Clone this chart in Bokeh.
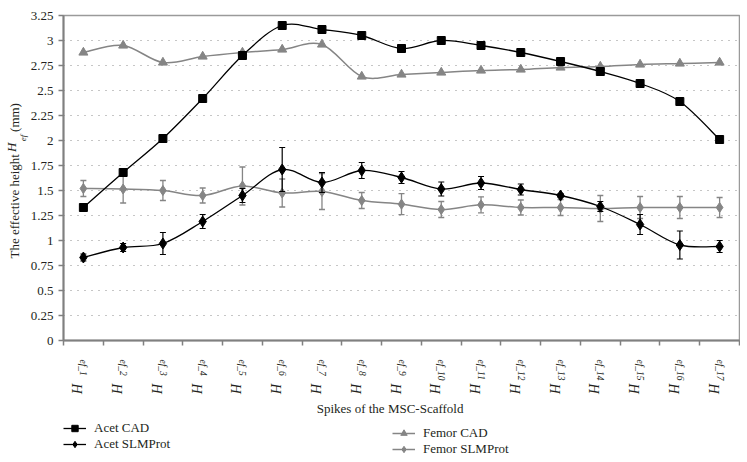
from bokeh.plotting import figure
from bokeh.layouts import column
from bokeh.models import (Range1d, FixedTicker, Legend, LegendItem, LinearAxis)
from bokeh.embed import file_html
from bokeh.resources import INLINE

# ---------------- data ----------------
spikes = [1, 2, 3, 4, 5, 6, 7, 8, 9, 10, 11, 12, 13, 14, 15, 16, 17]
x_subs = ["ef_1", "ef_2", "ef_3", "ef_4", "ef_5", "ef_6", "ef_7", "ef_8", "ef_9",
          "ef_10", "ef_11", "ef_12", "ef_13", "ef_14", "ef_15", "ef_16", "ef_17"]
y_ticks = [0, 0.25, 0.5, 0.75, 1, 1.25, 1.5, 1.75, 2, 2.25, 2.5, 2.75, 3, 3.25]
y_tick_labels = ["0", "0.25", "0.5", "0.75", "1", "1.25", "1.5", "1.75", "2",
                 "2.25", "2.5", "2.75", "3", "3.25"]
x_bounds = [0.5, 1.5, 2.5, 3.5, 4.5, 5.5, 6.5, 7.5, 8.5, 9.5, 10.5, 11.5, 12.5,
            13.5, 14.5, 15.5, 16.5, 17.5]

acet_cad = [1.33, 1.68, 2.02, 2.42, 2.85, 3.15, 3.11, 3.05, 2.92, 3.00, 2.95,
            2.88, 2.79, 2.69, 2.57, 2.39, 2.01]
femor_cad = [2.88, 2.95, 2.78, 2.84, 2.88, 2.91, 2.96, 2.64, 2.66, 2.68, 2.70,
             2.71, 2.73, 2.74, 2.76, 2.77, 2.78]
acet_slm = [0.83, 0.93, 0.97, 1.19, 1.45, 1.71, 1.58, 1.70, 1.63, 1.515, 1.575,
            1.51, 1.45, 1.34, 1.16, 0.955, 0.94]
acet_slm_err = [0.035, 0.04, 0.11, 0.07, 0.07, 0.22, 0.10, 0.08, 0.06, 0.07,
                0.065, 0.055, 0.02, 0.05, 0.10, 0.14, 0.06]
femor_slm = [1.52, 1.515, 1.50, 1.45, 1.545, 1.475, 1.49, 1.40, 1.363, 1.31,
             1.357, 1.33, 1.33, 1.32, 1.33, 1.33, 1.33]
femor_slm_err = [0.08, 0.14, 0.10, 0.075, 0.19, 0.14, 0.18, 0.08, 0.105, 0.08,
                 0.08, 0.075, 0.08, 0.13, 0.11, 0.11, 0.10]

FONT = "Liberation Serif"
TXT = "#231f20"
BLACK = "#000000"
GRAY = "#858585"

# frame geometry (page px)
FX0, FX1, FY0, FY1 = 63, 739, 15, 348
W, H1, H2 = 740, 418, 42
XS = (FX1 - FX0) / 17.0
YS = (FY1 - FY0) / 3.25


def dy(py):
    return (FY1 - py) / YS


def smooth(xs, ys):
    """Catmull-Rom -> cubic Bezier control points (Excel-like smoothed line)."""
    n = len(xs)
    out = {k: [] for k in ("x0", "y0", "x1", "y1", "cx0", "cy0", "cx1", "cy1")}
    for i in range(n - 1):
        a = max(i - 1, 0)
        d = min(i + 2, n - 1)
        out["x0"].append(xs[i]); out["y0"].append(ys[i])
        out["x1"].append(xs[i + 1]); out["y1"].append(ys[i + 1])
        out["cx0"].append(xs[i] + (xs[i + 1] - xs[a]) / 6.0)
        out["cy0"].append(ys[i] + (ys[i + 1] - ys[a]) / 6.0)
        out["cx1"].append(xs[i + 1] - (xs[d] - xs[i]) / 6.0)
        out["cy1"].append(ys[i + 1] - (ys[d] - ys[i]) / 6.0)
    return out


p = figure(width=W, height=H1, x_range=Range1d(0.5, 17.5),
           y_range=Range1d(0, 3.25), output_backend="svg",
           toolbar_location=None, min_border_left=FX0, min_border_right=W - FX1,
           min_border_top=FY0, min_border_bottom=H1 - FY1)
p.background_fill_color = "white"
p.border_fill_color = "white"
p.outline_line_color = "#9a9a9a"
p.outline_line_width = 1.5


def plain_axis(ax):
    ax.axis_line_color = None
    ax.major_tick_line_color = None
    ax.minor_tick_line_color = None
    ax.major_tick_in = 0
    ax.major_tick_out = 0
    ax.minor_tick_in = 0
    ax.minor_tick_out = 0
    ax.major_label_text_font = FONT
    ax.major_label_text_color = TXT


# ---- y axis ----
p.yaxis.ticker = FixedTicker(ticks=y_ticks)
p.yaxis.major_label_overrides = {t: l for t, l in zip(y_ticks, y_tick_labels)}
p.yaxis.axis_line_color = "#808080"
p.yaxis.axis_line_width = 2
p.yaxis.major_tick_line_color = "#808080"
p.yaxis.major_tick_line_width = 1.5
p.yaxis.major_tick_in = 0
p.yaxis.major_tick_out = 5
p.yaxis.minor_tick_line_color = None
p.yaxis.major_label_text_font = FONT
p.yaxis.major_label_text_font_size = "13px"
p.yaxis.major_label_text_color = TXT
p.yaxis.major_label_standoff = 5

# ---- x axis: subscripts as labels, boundaries as (minor) ticks ----
xa = p.xaxis[0]
xa.ticker = FixedTicker(ticks=spikes, minor_ticks=x_bounds)
xa.major_label_overrides = {c: s for c, s in zip(spikes, x_subs)}
xa.major_label_orientation = "vertical"
xa.major_label_text_font = FONT
xa.major_label_text_font_style = "italic"
xa.major_label_text_font_size = "9.5px"
xa.major_label_text_color = TXT
xa.major_label_standoff = 14
xa.axis_line_color = "#808080"
xa.axis_line_width = 2
xa.major_tick_line_color = None
xa.major_tick_in = 0
xa.major_tick_out = 5
xa.minor_tick_line_color = "#808080"
xa.minor_tick_line_width = 1.5
xa.minor_tick_in = 0
xa.minor_tick_out = 5

# "H" of each tick label, on a second (line-less) axis below; carries the title
h_shift = -6.5 / XS
h_pos = [c + h_shift for c in spikes]
ax_h = LinearAxis(ticker=FixedTicker(ticks=h_pos),
                  major_label_overrides={hp: "H" for hp in h_pos},
                  major_label_orientation="vertical")
plain_axis(ax_h)
ax_h.major_label_text_font_style = "italic"
ax_h.major_label_text_font_size = "14px"
ax_h.major_label_standoff = 0
ax_h.axis_label = "Spikes of the MSC-Scaffold" + "\u00a0" * 7
ax_h.axis_label_text_font = FONT
ax_h.axis_label_text_font_size = "13px"
ax_h.axis_label_text_font_style = "normal"
ax_h.axis_label_text_color = TXT
ax_h.axis_label_standoff = 4
p.add_layout(ax_h, "below")

# ---- y axis title pieces: "The effective height H_ef (mm)" ----
ef_pos = [dy(140.5)]
ax_ef = LinearAxis(ticker=FixedTicker(ticks=ef_pos),
                   major_label_overrides={ef_pos[0]: "ef"},
                   major_label_orientation="vertical")
plain_axis(ax_ef)
ax_ef.major_label_text_font_style = "italic"
ax_ef.major_label_text_font_size = "9px"
ax_ef.major_label_standoff = -1
p.add_layout(ax_ef, "left")

main_pos = [dy(210.5), dy(119.5)]
ax_main = LinearAxis(ticker=FixedTicker(ticks=main_pos),
                     major_label_overrides={main_pos[0]: "The effective height",
                                            main_pos[1]: "(mm)"},
                     major_label_orientation="vertical")
plain_axis(ax_main)
ax_main.major_label_text_font_size = "13px"
ax_main.major_label_standoff = -7
p.add_layout(ax_main, "left")

hy_pos = [dy(150)]
ax_hy = LinearAxis(ticker=FixedTicker(ticks=hy_pos),
                   major_label_overrides={hy_pos[0]: "H"},
                   major_label_orientation="vertical")
plain_axis(ax_hy)
ax_hy.major_label_text_font_style = "italic"
ax_hy.major_label_text_font_size = "13px"
ax_hy.major_label_standoff = -15
p.add_layout(ax_hy, "left")

p.xgrid.visible = False
p.ygrid.ticker = FixedTicker(ticks=y_ticks)
p.ygrid.grid_line_color = "#8c8c8c"
p.ygrid.grid_line_dash = "1 6"
p.ygrid.grid_line_width = 1

# ---- series ----
b = smooth(spikes, femor_cad)
p.bezier(line_color=GRAY, line_width=1.5, **b)
p.scatter(spikes, femor_cad, marker="triangle", size=9, color=GRAY)

lo = [v - e for v, e in zip(femor_slm, femor_slm_err)]
hi = [v + e for v, e in zip(femor_slm, femor_slm_err)]
p.segment(x0=spikes, y0=lo, x1=spikes, y1=hi, line_color=GRAY, line_width=1.3)
p.scatter(spikes, lo, marker="dash", size=6, line_color=GRAY, line_width=1.3)
p.scatter(spikes, hi, marker="dash", size=6, line_color=GRAY, line_width=1.3)
b = smooth(spikes, femor_slm)
p.bezier(line_color=GRAY, line_width=1.5, **b)
p.scatter(spikes, femor_slm, marker="diamond", size=10, color=GRAY)

b = smooth(spikes, acet_cad)
p.bezier(line_color=BLACK, line_width=1.3, **b)
p.scatter(spikes, acet_cad, marker="square", size=8, color=BLACK)

lo = [v - e for v, e in zip(acet_slm, acet_slm_err)]
hi = [v + e for v, e in zip(acet_slm, acet_slm_err)]
p.segment(x0=spikes, y0=lo, x1=spikes, y1=hi, line_color=BLACK, line_width=1.2)
p.scatter(spikes, lo, marker="dash", size=6, line_color=BLACK, line_width=1.2)
p.scatter(spikes, hi, marker="dash", size=6, line_color=BLACK, line_width=1.2)
b = smooth(spikes, acet_slm)
p.bezier(line_color=BLACK, line_width=1.3, **b)
p.scatter(spikes, acet_slm, marker="diamond", size=11, color=BLACK)

# ---- legend strip (second figure directly below the chart; its frame is
#      aligned with the chart frame by the column layout) ----
q = figure(width=W, height=H2, x_range=Range1d(0, W), y_range=Range1d(0, H2),
           output_backend="svg", toolbar_location=None, x_axis_type=None,
           y_axis_type=None, min_border=0, min_border_left=0,
           min_border_right=0, min_border_top=0, min_border_bottom=0)
q.outline_line_color = None
q.grid.visible = False
q.background_fill_color = "white"
q.border_fill_color = "white"


def sample(color, marker, size, lw):
    # legend-sample renderers: one point each, kept outside the visible strip
    ln = q.line(x=[-20, -10], y=[-20, -20], line_color=color, line_width=lw)
    mk = q.scatter(x=[-20], y=[-20], marker=marker, size=size, color=color)
    return [ln, mk]


def mk_legend(items, loc):
    return Legend(items=items, location=loc, orientation="vertical",
                  label_text_font=FONT, label_text_font_size="13px",
                  label_text_color=TXT, glyph_width=23, glyph_height=16,
                  label_height=16, label_standoff=8, spacing=0,
                  padding=0, margin=0, border_line_color=None,
                  background_fill_alpha=0)


leg1 = mk_legend([LegendItem(label="Acet CAD",
                             renderers=sample(BLACK, "square", 8, 1.3)),
                  LegendItem(label="Acet SLMProt",
                             renderers=sample(BLACK, "diamond", 11, 1.3))],
                 (0, H2 - (452 - H1)))
leg2 = mk_legend([LegendItem(label="Femor CAD",
                             renderers=sample(GRAY, "triangle", 9, 1.5)),
                  LegendItem(label="Femor SLMProt",
                             renderers=sample(GRAY, "diamond", 10, 1.5))],
                 (392 - FX0, H2 - (457 - H1)))
q.add_layout(leg1)
q.add_layout(leg2)

open("out.html", "w").write(file_html(column(p, q, spacing=0), INLINE))
